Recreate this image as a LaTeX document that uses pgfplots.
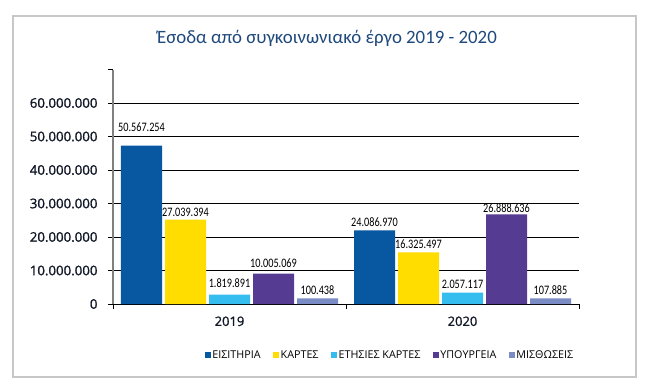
\documentclass[border=0pt]{standalone}
\usepackage{pgfplots}
\usepackage{pgfplotstable}
\pgfplotsset{compat=1.18}
\usepackage{fontspec}
\setmainfont{Carlito}
\newfontfamily\narrowfont[FakeStretch=0.79]{Carlito}
\newfontfamily\tickfont[FakeBold=1.2]{Open Sans}
\newfontfamily\legfont{Open Sans}
\definecolor{cBlue}{HTML}{0757A1}
\definecolor{cYellow}{HTML}{FFDD00}
\definecolor{cCyan}{HTML}{35BDEF}
\definecolor{cPurple}{HTML}{553B91}
\definecolor{cSlate}{HTML}{7B8CC5}
\definecolor{cTitle}{HTML}{1F497D}
\definecolor{cTick}{HTML}{111827}

% x: 0 = 2019, 1 = 2020 ; y = drawn bar height (millions) ; label = printed value ; ly = label height (millions)
\pgfplotstableread{
x y label ly
0 47.25 50.567.254 51.4
1 22.00 24.086.970 23.0
}\tabEis
\pgfplotstableread{
x y label ly
0 25.20 27.039.394 26.1
1 15.40 16.325.497 16.4
}\tabKar
\pgfplotstableread{
x y label ly
0 2.80 1.819.891 4.8
1 3.40 2.057.117 4.5
}\tabEte
\pgfplotstableread{
x y label ly
0 9.10 10.005.069 10.9
1 26.75 26.888.636 27.2
}\tabYpo
\pgfplotstableread{
x y label ly
0 1.70 100.438 2.8
1 1.70 107.885 2.6
}\tabMis

\begin{document}
\begin{tikzpicture}
\path[use as bounding box] (0,0) rectangle (646bp,387bp);
\fill[white] (0,0) rectangle (646bp,387bp);
\draw[color=black!22, line width=1.2bp] (13bp,10bp) rectangle (636bp,371bp);
\node[font=\fontsize{18.9}{22}\selectfont, text=cTitle] at (327bp,349bp) {Έσοδα από συγκοινωνιακό έργο 2019 - 2020};
\begin{axis}[
  at={(113bp,83bp)}, anchor=south west,
  scale only axis, width=466bp, height=234.5bp,
  clip=false,
  xmin=-0.5, xmax=1.5, ymin=0, ymax=70,
  ybar=3bp, bar width=41bp,
  axis lines=left,
  x axis line style={-, black, line width=0.9bp},
  y axis line style={-, black!50, line width=1.6bp},
  xtick={-0.5,0.5,1.5}, xticklabels={},
  extra x ticks={0,1}, extra x tick labels={2019,2020},
  extra x tick style={major tick length=0pt, xticklabel style={font=\tickfont\fontsize{13}{15}\selectfont, text=cTick, yshift=-9bp}},
  ytick={0,10,20,30,40,50,60},
  yticklabels={0,10.000.000,20.000.000,30.000.000,40.000.000,50.000.000,60.000.000},
  extra y ticks={70}, extra y tick labels={},
  extra y tick style={grid=none},
  ymajorgrids, grid style={black, line width=0.7bp},
  tick align=outside, major tick length=5bp,
  tick style={black, line width=0.7bp},
  yticklabel style={font=\tickfont\fontsize{13.3}{15}\selectfont, text=cTick, xshift=-7bp},
  nodes near coords, point meta=explicit symbolic,
  visualization depends on={(\thisrow{ly}-\thisrow{y})*3.35 \as \dy},
  nodes near coords style={font=\narrowfont\fontsize{13}{15}\selectfont, anchor=south, inner sep=0pt, text=black, yshift=\dy bp},
  legend style={at={(0.594,-0.2175)}, anchor=center, draw=none, fill=none, font=\legfont\fontsize{10.8}{12}\selectfont, inner sep=0pt,
    nodes={inner xsep=1.5bp},
    /tikz/every even column/.append style={column sep=11bp}},
  legend columns=5,
  legend image code/.code={\fill[#1] (0bp,-3bp) rectangle (6bp,3bp);},
]
\addplot[fill=cBlue, draw=none] table[x=x, y=y, meta=label] {\tabEis};
\addplot[fill=cYellow, draw=none] table[x=x, y=y, meta=label] {\tabKar};
\addplot[fill=cCyan, draw=none] table[x=x, y=y, meta=label] {\tabEte};
\addplot[fill=cPurple, draw=none] table[x=x, y=y, meta=label] {\tabYpo};
\addplot[fill=cSlate, draw=none] table[x=x, y=y, meta=label] {\tabMis};
\legend{ΕΙΣΙΤΗΡΙΑ, ΚΑΡΤΕΣ, ΕΤΗΣΙΕΣ ΚΑΡΤΕΣ, ΥΠΟΥΡΓΕΙΑ, ΜΙΣΘΩΣΕΙΣ}
\end{axis}
\end{tikzpicture}
\end{document}
